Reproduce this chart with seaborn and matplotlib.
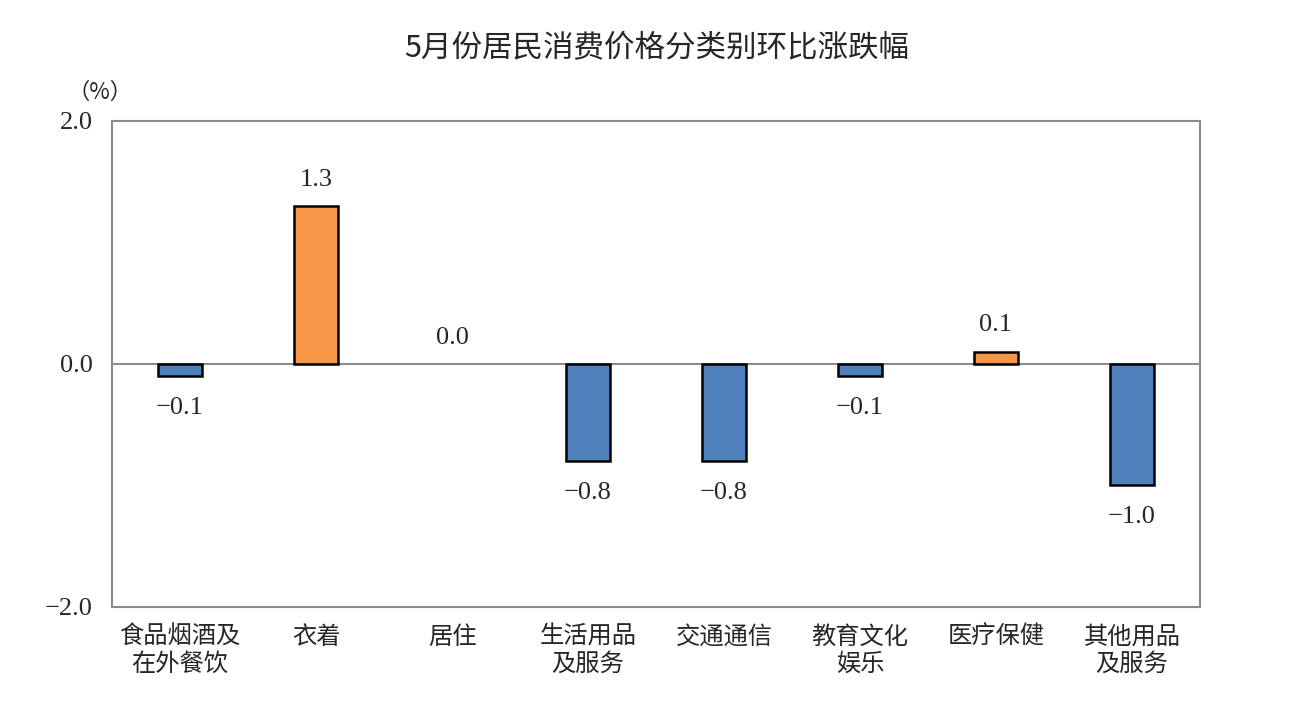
import matplotlib
matplotlib.use("Agg")
import matplotlib.pyplot as plt
import seaborn as sns
import pandas as pd

# data
categories = ["食品烟酒及\n在外餐饮", "衣着", "居住", "生活用品\n及服务",
              "交通通信", "教育文化\n娱乐", "医疗保健", "其他用品\n及服务"]
values = [-0.1, 1.3, 0.0, -0.8, -0.8, -0.1, 0.1, -1.0]
yticks = [-2.0, 0.0, 2.0]

sns.set_style("white")
plt.rcParams['font.family'] = ['Noto Sans CJK SC', 'DejaVu Sans']
num_font = ['Liberation Serif', 'DejaVu Serif']

def fmt(v):
    return f"{v:.1f}".replace("-", "\u2212")

df = pd.DataFrame({"cat": categories, "val": values})
df["sign"] = ["up" if v >= 0 else "down" for v in values]

fig = plt.figure(figsize=(13.06, 7.19), dpi=100)
ax = fig.add_axes([0.0858, 0.1558, 0.833, 0.676])

sns.barplot(data=df, x="cat", y="val", hue="sign", dodge=False, saturation=1,
            palette={"up": "#F79646", "down": "#4F81BD"},
            edgecolor="black", linewidth=1.8, width=0.33, legend=False, ax=ax)

# zero-height bar shows no outline in the reference
for p in ax.patches:
    if abs(p.get_height()) < 1e-9:
        p.set_linewidth(0)

ax.set_ylim(-2.0, 2.0)
ax.set_xlim(-0.5, len(categories) - 0.5)
ax.set_yticks(yticks)
ax.set_yticklabels([fmt(t) for t in yticks], fontfamily=num_font, fontsize=19)
ax.tick_params(axis='y', length=0, pad=14)
ax.tick_params(axis='x', length=0, pad=12, labelsize=17.5)
for lbl in ax.get_xticklabels():
    lbl.set_linespacing(1.05)
ax.set_xlabel("")
ax.set_ylabel("")
ax.axhline(0, color="#8c8c8c", lw=1.5, zorder=0.5)
for s in ax.spines.values():
    s.set_color("#8c8c8c")
    s.set_linewidth(1.5)

for i, v in enumerate(values):
    off = 19 if v >= 0 else -23
    ax.annotate(fmt(v), (i, v), xytext=(0, off), textcoords="offset points",
                ha="center", va="center", fontfamily=num_font, fontsize=19)

fig.text(0.0765, 0.872, "（%）", fontsize=16, ha="center", va="center")
fig.suptitle("5月份居民消费价格分类别环比涨跌幅", x=0.503, y=0.955, fontsize=22)

fig.savefig("out.png", dpi=100, facecolor="white")
